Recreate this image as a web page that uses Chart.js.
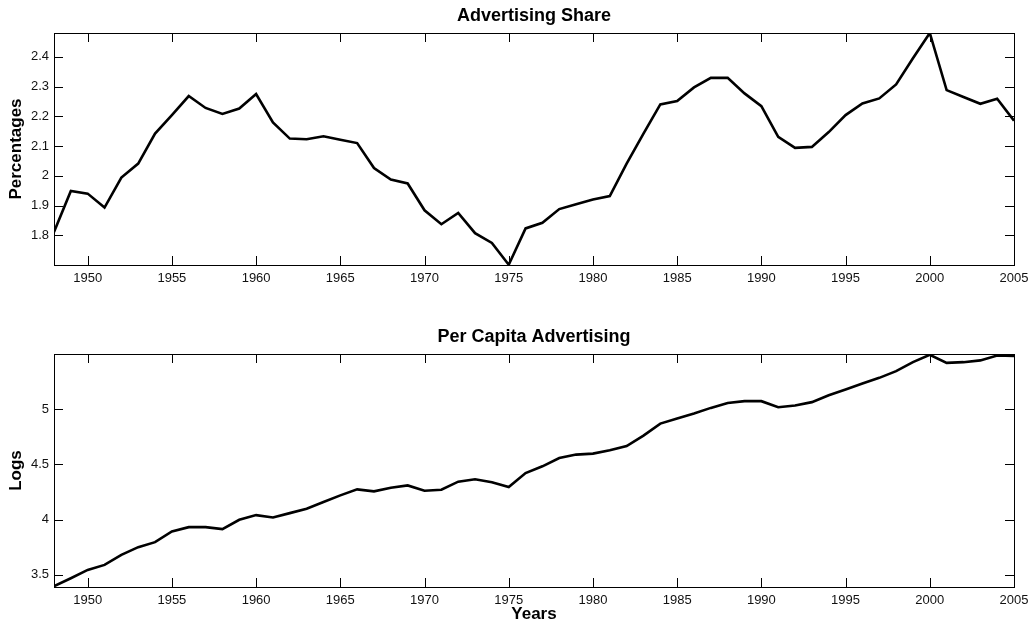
<!DOCTYPE html>
<html>
<head>
<meta charset="utf-8">
<script src="https://cdn.jsdelivr.net/npm/chart.js@4.4.0/dist/chart.umd.min.js"></script>
<style>
  html, body { margin: 0; padding: 0; background: #fff; }
  canvas { position: absolute; left: 0; }
  #c1 { top: 0; }
  #c2 { top: 300px; }
</style>
</head>
<body>
<canvas id="c1" width="1029" height="300"></canvas>
<canvas id="c2" width="1029" height="323"></canvas>
<script>
const years = [
  1948, 1949, 1950, 1951, 1952, 1953, 1954, 1955, 1956, 1957,
  1958, 1959, 1960, 1961, 1962, 1963, 1964, 1965, 1966, 1967,
  1968, 1969, 1970, 1971, 1972, 1973, 1974, 1975, 1976, 1977,
  1978, 1979, 1980, 1981, 1982, 1983, 1984, 1985, 1986, 1987,
  1988, 1989, 1990, 1991, 1992, 1993, 1994, 1995, 1996, 1997,
  1998, 1999, 2000, 2001, 2002, 2003, 2004, 2005,
]

// advertising share of GDP, percent
const adShare = [
  1.811, 1.949, 1.940, 1.893, 1.994, 2.041, 2.142, 2.204, 2.268, 2.228,
  2.208, 2.226, 2.275, 2.179, 2.125, 2.123, 2.133, 2.121, 2.110, 2.026,
  1.987, 1.974, 1.884, 1.837, 1.875, 1.807, 1.774, 1.701, 1.823, 1.842,
  1.888, 1.904, 1.920, 1.932, 2.041, 2.142, 2.240, 2.251, 2.297, 2.329,
  2.329, 2.277, 2.234, 2.131, 2.094, 2.097, 2.147, 2.204, 2.243, 2.260,
  2.307, 2.395, 2.480, 2.288, 2.265, 2.242, 2.259, 2.185,
]

// log of per capita advertising
const adPerCapita = [
  3.397, 3.469, 3.545, 3.590, 3.681, 3.751, 3.796, 3.893, 3.932, 3.932,
  3.914, 3.999, 4.041, 4.020, 4.059, 4.099, 4.159, 4.220, 4.274, 4.256,
  4.289, 4.310, 4.262, 4.271, 4.344, 4.365, 4.338, 4.295, 4.422, 4.483,
  4.558, 4.589, 4.598, 4.628, 4.667, 4.761, 4.870, 4.915, 4.961, 5.012,
  5.057, 5.073, 5.073, 5.018, 5.033, 5.064, 5.127, 5.179, 5.233, 5.284,
  5.345, 5.426, 5.493, 5.420, 5.426, 5.442, 5.487, 5.482,
]

const xTicks = [1950, 1955, 1960, 1965, 1970, 1975, 1980, 1985, 1990, 1995, 2000, 2005]
const shareTicks = [1.8, 1.9, 2, 2.1, 2.2, 2.3, 2.4]
const perCapitaTicks = [3.5, 4, 4.5, 5]

const tickFont = {family: "Arial, 'Liberation Sans', sans-serif", size: 13}
const labelFont = {family: "Arial, 'Liberation Sans', sans-serif", size: 17, weight: "bold"}
const titleFont = {family: "Arial, 'Liberation Sans', sans-serif", size: 18, weight: "bold"}

// matlab-like box with inward ticks on all four sides
const boxTicks = {
  id: "boxTicks",
  afterLayout(chart) {
    // center the title over the plot box, not the whole canvas
    const a = chart.chartArea
    if (chart.titleBlock) {
      chart.titleBlock.left = a.left
      chart.titleBlock.right = a.right
    }
  },
  afterDraw(chart) {
    const {ctx, chartArea: a, scales} = chart
    const len = 9
    ctx.save()
    ctx.strokeStyle = "#000"
    ctx.lineWidth = 1
    ctx.beginPath()
    scales.x.ticks.forEach((t) => {
      const px = Math.round(scales.x.getPixelForValue(t.value)) + 0.5
      ctx.moveTo(px, a.bottom)
      ctx.lineTo(px, a.bottom - len)
      ctx.moveTo(px, a.top)
      ctx.lineTo(px, a.top + len)
    })
    scales.y.ticks.forEach((t) => {
      const py = Math.round(scales.y.getPixelForValue(t.value)) + 0.5
      ctx.moveTo(a.left, py)
      ctx.lineTo(a.left + len, py)
      ctx.moveTo(a.right, py)
      ctx.lineTo(a.right - len, py)
    })
    ctx.stroke()
    ctx.strokeRect(Math.round(a.left) + 0.5, Math.round(a.top) + 0.5,
      Math.round(a.right - a.left), Math.round(a.bottom - a.top))
    ctx.restore()
  },
}

function makeChart(canvas, values, opts) {
  return new Chart(canvas, {
    type: "line",
    data: {
      datasets: [
        {
          data: years.map((yr, i) => ({x: yr, y: values[i]})),
          borderColor: "#000",
          borderWidth: 2.6,
          pointRadius: 0,
          tension: 0,
        },
      ],
    },
    options: {
      responsive: false,
      animation: false,
      layout: {padding: {right: 15, left: 0, top: 0, bottom: 0}},
      plugins: {
        legend: {display: false},
        tooltip: {enabled: false},
        title: {
          display: true,
          text: opts.title,
          color: "#000",
          font: titleFont,
          padding: opts.titlePad,
        },
      },
      scales: {
        x: {
          type: "linear",
          min: 1948,
          max: 2005,
          grid: {display: false, drawTicks: false},
          border: {display: false},
          afterBuildTicks: (s) => { s.ticks = xTicks.map((v) => ({value: v})) },
          afterFit: (s) => {
            s.height = opts.xHeight
            s.paddingLeft = 0
            s.paddingRight = 0
          },
          ticks: {
            color: "#111",
            font: tickFont,
            padding: 6,
            maxRotation: 0,
            autoSkip: false,
            callback: (v) => String(v),
          },
          title: opts.xTitle
            ? {display: true, text: opts.xTitle, color: "#000", font: labelFont, padding: {top: 0, bottom: -2}}
            : {display: false},
        },
        y: {
          min: opts.yMin,
          max: opts.yMax,
          grid: {display: false, drawTicks: false},
          border: {display: false},
          afterBuildTicks: (s) => { s.ticks = opts.yTicks.map((v) => ({value: v})) },
          afterFit: (s) => { s.width = 54 },
          ticks: {
            color: "#111",
            font: tickFont,
            padding: 5,
            callback: (v) => String(+v.toFixed(2)),
          },
          title: {display: true, text: opts.yTitle, color: "#000", font: labelFont, padding: {top: 5.8, bottom: 0}},
        },
      },
    },
    plugins: [boxTicks],
  })
}

makeChart(document.getElementById("c1"), adShare, {
  title: "Advertising Share",
  titlePad: {top: 5, bottom: 6.4},
  xHeight: 35,
  yMin: 1.7,
  yMax: 2.48,
  yTicks: shareTicks,
  yTitle: "Percentages",
})

makeChart(document.getElementById("c2"), adPerCapita, {
  title: "Per Capita Advertising",
  titlePad: {top: 26.5, bottom: 5.9},
  xHeight: 36,
  xTitle: "Years",
  yMin: 3.39,
  yMax: 5.5,
  yTicks: perCapitaTicks,
  yTitle: "Logs",
})
</script>
</body>
</html>
